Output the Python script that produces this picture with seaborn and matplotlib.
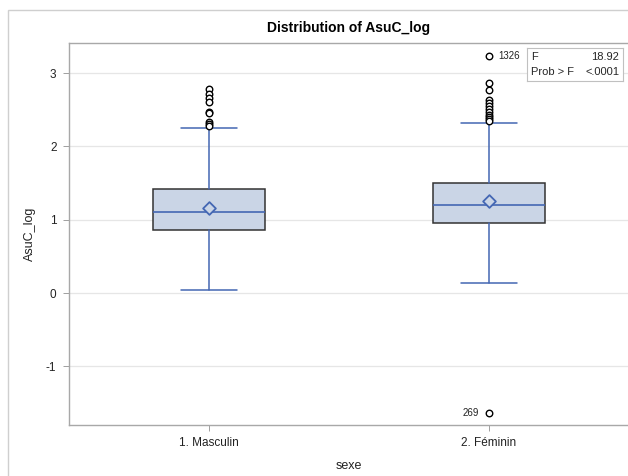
import numpy as np
import pandas as pd
import matplotlib
matplotlib.use("Agg")
import matplotlib.pyplot as plt
import seaborn as sns
from matplotlib.patches import Rectangle

# summary stats
categories = ["1. Masculin", "2. Féminin"]
q1 = [0.855, 0.951]
median = [1.109, 1.205]
q3 = [1.419, 1.497]
mean = [1.164, 1.251]
whisker_lo = [0.045, 0.140]
whisker_hi = [2.255, 2.323]

outliers_m = [2.78, 2.72, 2.66, 2.60, 2.47, 2.45, 2.33, 2.30, 2.28]
outliers_f = [3.237, 2.87, 2.77, 2.63, 2.59, 2.55, 2.51, 2.47, 2.43, 2.40, 2.37, 2.35, -1.63]

labelled = [("2. Féminin", 3.237, "1326", "right"), ("2. Féminin", -1.63, "269", "left")]
f_value = "18.92"
p_value = "<.0001"

sns.set_theme(style="white")
plt.rcParams["font.family"] = ["Liberation Sans", "DejaVu Sans"]

fig = plt.figure(figsize=(6.28, 4.76), dpi=100)
ax = fig.add_axes([69 / 628, 1 - 425 / 476, 560 / 628, (425 - 43) / 476])

box_fill = "#CAD5E6"
blue = "#4467B3"

stats = []
for i, cat in enumerate(categories):
    stats.append({"label": cat, "q1": q1[i], "med": median[i], "q3": q3[i],
                  "whislo": whisker_lo[i], "whishi": whisker_hi[i], "fliers": []})

ax.bxp(stats, positions=[0, 1], widths=0.4, capwidths=0.2, patch_artist=True,
       showfliers=False,
       boxprops=dict(facecolor=box_fill, edgecolor="#333333", linewidth=1.1),
       medianprops=dict(color=blue, linewidth=1.2),
       whiskerprops=dict(color=blue, linewidth=1.1),
       capprops=dict(color=blue, linewidth=1.1), zorder=3)

# outliers
out_df = pd.DataFrame({
    "x": [0] * len(outliers_m) + [1] * len(outliers_f),
    "y": outliers_m + outliers_f,
})
sns.scatterplot(data=out_df, x="x", y="y", ax=ax, marker="o", s=22,
                facecolor="white", edgecolor="black", linewidth=1.0, zorder=4)

# means
mean_df = pd.DataFrame({"x": [0, 1], "y": mean})
sns.scatterplot(data=mean_df, x="x", y="y", ax=ax, marker="D", s=42,
                facecolor=box_fill, edgecolor=blue, linewidth=1.3, zorder=5)

for cat, val, lab, side in labelled:
    xi = categories.index(cat)
    if side == "right":
        ax.annotate(lab, (xi, val), xytext=(7, 0), textcoords="offset points",
                    ha="left", va="center", fontsize=7, color="#222222")
    else:
        ax.annotate(lab, (xi, val), xytext=(-7, 0), textcoords="offset points",
                    ha="right", va="center", fontsize=7, color="#222222")

ax.set_xlim(-0.5, 1.5)
ax.set_ylim(-1.80, 3.41)
ax.set_xticks([0, 1])
ax.set_xticklabels(categories, fontsize=8.5, color="#222222")
ax.set_yticks([-1, 0, 1, 2, 3])
ax.set_yticklabels(["-1", "0", "1", "2", "3"], fontsize=8.5, color="#222222")
ax.tick_params(axis="both", length=4, width=0.7, color="#A0A0A0", pad=5, bottom=True, left=True)
ax.yaxis.grid(True, color="#E6E6E6", linewidth=0.9)
ax.set_axisbelow(True)
for sp in ax.spines.values():
    sp.set_color("#A8A8A8")
    sp.set_linewidth(1.0)

ax.set_xlabel("sexe", fontsize=9, color="#222222", labelpad=7.5)
ax.set_ylabel("AsuC_log", fontsize=9, color="#222222", labelpad=7.5)
ax.set_title("Distribution of AsuC_log", fontsize=10, fontweight="bold", pad=8, color="black")

# F-test inset
inset = ax.inset_axes([(527 - 69) / 560, (425 - 81) / 382, 96 / 560, 33 / 382])
inset.set_xticks([])
inset.set_yticks([])
for sp in inset.spines.values():
    sp.set_color("#C0C0C0")
    sp.set_linewidth(0.8)
inset.set_facecolor("white")
inset.text(0.04, 0.74, "F", fontsize=8, va="center", ha="left", transform=inset.transAxes)
inset.text(0.96, 0.74, f_value, fontsize=8, va="center", ha="right", transform=inset.transAxes)
inset.text(0.04, 0.26, "Prob > F", fontsize=8, va="center", ha="left", transform=inset.transAxes)
inset.text(0.96, 0.26, p_value, fontsize=8, va="center", ha="right", transform=inset.transAxes)

# outer graph border (cropped on right / bottom)
fig.patches.append(Rectangle((8 / 628, -0.1), 1.2, 1 - 10 / 476 + 0.1, transform=fig.transFigure,
                             fill=False, edgecolor="#CFCFCF", linewidth=1.0))

fig.savefig("out.png", dpi=100)
